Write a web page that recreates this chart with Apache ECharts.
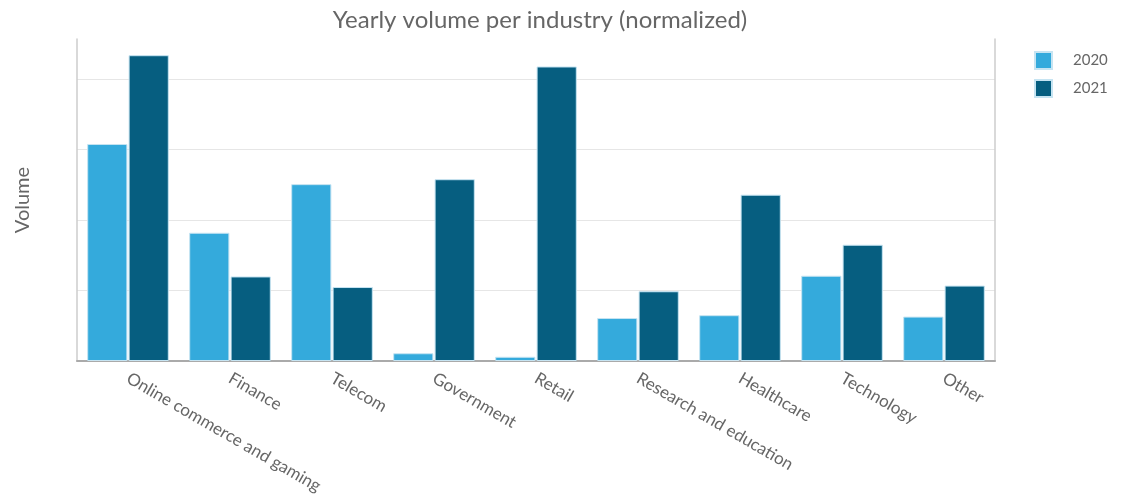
<!DOCTYPE html>
<html>
<head>
<meta charset="utf-8">
<script src="https://cdn.jsdelivr.net/npm/echarts@6/dist/echarts.min.js"></script>
<style>
  html, body { margin: 0; padding: 0; background: #fff; }
  #chart { width: 1129px; height: 497px; }
</style>
</head>
<body>
<div id="chart"></div>
<script>
// industries on the x axis
var industries = ["Online commerce and gaming", "Finance", "Telecom", "Government", "Retail",
  "Research and education", "Healthcare", "Technology", "Other"];
// normalized volume, one grid step = 1
var vol2020 = [3.08, 1.82, 2.51, 0.11, 0.06, 0.61, 0.65, 1.21, 0.63];
var vol2021 = [4.34, 1.20, 1.05, 2.58, 4.18, 0.99, 2.36, 1.65, 1.07];

var font = "Lato";
var myChart = echarts.init(document.getElementById("chart"));
var option = {
  animation: false,
  textStyle: { fontFamily: font },
  title: {
    text: "Yearly volume per industry (normalized)",
    left: 535,
    textAlign: "center",
    top: 3,
    textStyle: { fontFamily: font, fontSize: 24, fontWeight: "normal", color: "#666" }
  },
  legend: {
    orient: "vertical",
    left: 1029,
    top: 46,
    itemWidth: 17,
    itemHeight: 17,
    itemGap: 9,
    icon: "rect",
    data: ["2020", "2021"],
    textStyle: { fontFamily: font, fontSize: 15, color: "#666", padding: [0, 0, 0, 16] }
  },
  grid: { left: 77, right: 134, top: 39, bottom: 136 },
  xAxis: {
    type: "category",
    data: industries,
    axisLine: { lineStyle: { color: "#aaa", width: 2 } },
    axisTick: { show: false },
    axisLabel: {
      rotate: -30,
      interval: 0,
      margin: 16,
      fontFamily: font,
      fontSize: 17,
      color: "#666"
    }
  },
  yAxis: [
    {
      type: "value",
      min: 0,
      max: 4.57,
      interval: 1,
      name: "Volume",
      nameLocation: "middle",
      nameGap: 44,
      nameTextStyle: { fontFamily: font, fontSize: 20, color: "#666" },
      axisLabel: { show: false },
      axisTick: { show: false },
      axisLine: { show: true, lineStyle: { color: "#ccc", width: 1.5 } },
      splitLine: { show: true, showMaxLine: false, lineStyle: { color: "#e6e6e6" } }
    },
    {
      type: "value",
      position: "right",
      min: 0,
      max: 4.57,
      axisLabel: { show: false },
      axisTick: { show: false },
      axisLine: { show: true, lineStyle: { color: "#ccc", width: 1.5 } },
      splitLine: { show: false }
    }
  ],
  series: [
    {
      name: "2020",
      type: "bar",
      data: vol2020,
      barGap: "3%",
      barCategoryGap: "20%",
      itemStyle: { color: "#34aadc", borderColor: "#c6e4f2", borderWidth: 1 }
    },
    {
      name: "2021",
      type: "bar",
      data: vol2021,
      itemStyle: { color: "#065e80", borderColor: "#c6e4f2", borderWidth: 1 }
    }
  ]
};
myChart.setOption(option);
</script>
</body>
</html>
